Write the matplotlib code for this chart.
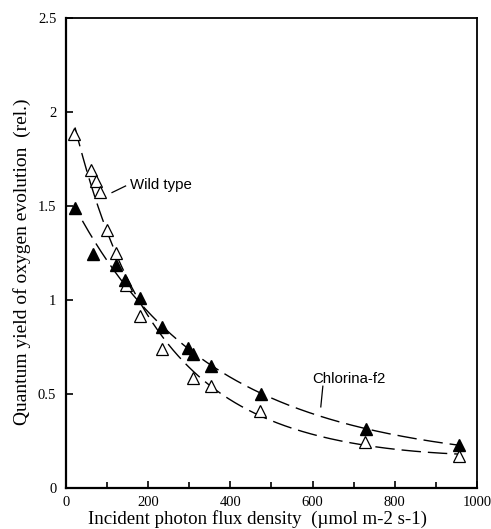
import numpy as np
import matplotlib.pyplot as plt
from matplotlib.ticker import MultipleLocator, FormatStrFormatter

# Wild type (open triangles)
wt_x = np.array([20, 61, 72, 83, 100, 122, 145, 179, 234, 309, 354, 472, 728, 957])
wt_y = np.array([1.88, 1.69, 1.63, 1.575, 1.37, 1.25, 1.08, 0.915, 0.74, 0.585, 0.54, 0.41, 0.245, 0.17])

# Chlorina-f2 (filled triangles)
ch_x = np.array([23, 65, 122, 143, 180, 234, 297, 309, 352, 475, 729, 957])
ch_y = np.array([1.49, 1.245, 1.185, 1.105, 1.01, 0.855, 0.745, 0.71, 0.65, 0.50, 0.31, 0.228])

serif = 'Liberation Serif'
sans = 'Liberation Sans'

fig = plt.figure(figsize=(4.91, 5.29), dpi=100)
ax = fig.add_axes([0.1344, 0.078, 0.837, 0.8885])

# fitted curves (quadratic of log y against x)
p_wt = np.polyfit(wt_x, np.log(wt_y), 2)
p_ch = np.polyfit(ch_x, np.log(ch_y), 2)
xs = np.linspace(22, 960, 300)
ax.plot(xs, np.exp(np.polyval(p_wt, xs)), color='black', lw=1, dashes=(14, 5))
xs2 = np.linspace(40, 960, 300)
ax.plot(xs2, np.exp(np.polyval(p_ch, xs2)), color='black', lw=1, dashes=(14, 5))

ax.plot(wt_x, wt_y, '^', ms=9, mfc='white', mec='black', mew=0.9, ls='none')
ax.plot(ch_x, ch_y, '^', ms=9, mfc='black', mec='black', ls='none')

# labels with leader lines
ax.text(155, 1.61, 'Wild type', fontsize=10.8, family=sans, va='center')
ax.plot([112, 145], [1.57, 1.605], color='black', lw=0.9)
ax.text(600, 0.58, 'Chlorina-f2', fontsize=10.8, family=sans, va='center')
ax.plot([620, 625], [0.43, 0.54], color='black', lw=0.9)

ax.set_xlim(0, 1000)
ax.set_ylim(0, 2.5)
ax.xaxis.set_major_locator(MultipleLocator(200))
ax.xaxis.set_minor_locator(MultipleLocator(100))
ax.yaxis.set_major_locator(MultipleLocator(0.5))
ax.yaxis.set_major_formatter(FormatStrFormatter('%g'))
ax.tick_params(which='both', direction='in', top=False, right=False, labelsize=10.5)
ax.tick_params(which='major', length=5, width=1.2)
ax.tick_params(which='minor', length=4, width=1.2)
ax.tick_params(axis='x', pad=6)
ax.tick_params(axis='y', pad=7)
for lbl in ax.get_xticklabels() + ax.get_yticklabels():
    lbl.set_family(serif)

for s in ['left', 'bottom']:
    ax.spines[s].set_linewidth(1.6)
for s in ['top', 'right']:
    ax.spines[s].set_linewidth(1.3)

ax.set_xlabel('Incident photon flux density  (\u00b5mol m-2 s-1)', family=serif, fontsize=13.6)
ax.set_ylabel('Quantum yield of oxygen evolution  (rel.)', family=serif, fontsize=14)
ax.xaxis.set_label_coords(0.465, -0.048)
ax.yaxis.set_label_coords(-0.085, 0.48)

fig.savefig('out.png', dpi=100)
